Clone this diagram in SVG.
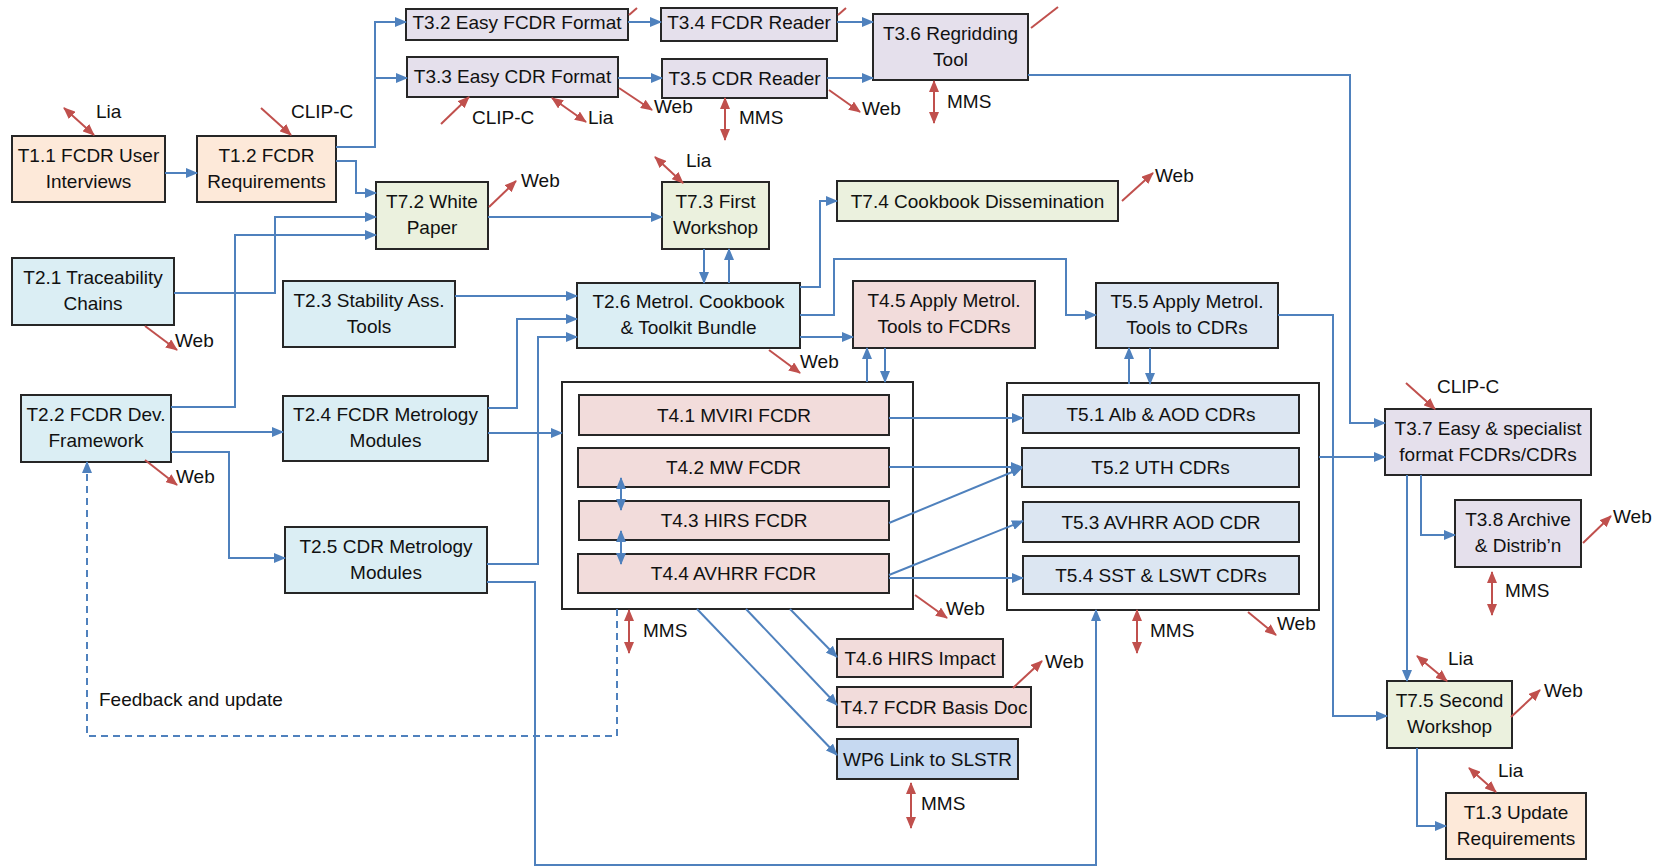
<svg xmlns="http://www.w3.org/2000/svg" width="1675" height="868" viewBox="0 0 1675 868">
<defs>
<marker id="ab" markerUnits="userSpaceOnUse" markerWidth="12" markerHeight="10" refX="11" refY="5" orient="auto-start-reverse"><path d="M0,0 L12,5 L0,10 z" fill="#4F81BD"/></marker>
<marker id="ar" markerUnits="userSpaceOnUse" markerWidth="12" markerHeight="10" refX="11" refY="5" orient="auto-start-reverse"><path d="M0,0 L12,5 L0,10 z" fill="#C0504D"/></marker>
<style>
.n rect{stroke:#262626;stroke-width:2}
.t1 rect{fill:#FDE9D9}.t3 rect{fill:#E5E0EC}.t7 rect{fill:#EBF1DE}.t2 rect{fill:#DBEEF4}
.t4 rect{fill:#F2DCDB}.t5 rect{fill:#DCE6F2}.wp rect{fill:#C6D9F1}.ct rect{fill:#FFFFFF}
text{font-family:"Liberation Sans",Arial,sans-serif;font-size:19px;fill:#111}
.n text{text-anchor:middle}
#conn path{fill:none;stroke:#4F81BD;stroke-width:2;marker-end:url(#ab)}
#conn path.d{marker-start:url(#ab)}
#conn path.fb{stroke-dasharray:7,5}
#ext path{fill:none;stroke:#C0504D;stroke-width:2;marker-end:url(#ar)}
#ext path.d{marker-start:url(#ar)}
#ext path.s{marker-end:none}
</style>
</defs>
<rect width="1675" height="868" fill="#FFFFFF"/>

<g id="containerT4" class="n ct"><rect x="562" y="382" width="351" height="227"/></g>
<g id="containerT5" class="n ct"><rect x="1007" y="383" width="312" height="227"/></g>

<g id="T1.1" class="n t1"><rect x="12" y="136" width="153" height="66"/><text x="88.5" y="162">T1.1 FCDR User</text><text x="88.5" y="188">Interviews</text></g>
<g id="T1.2" class="n t1"><rect x="197" y="136" width="139" height="66"/><text x="266.5" y="162">T1.2 FCDR</text><text x="266.5" y="188">Requirements</text></g>
<g id="T3.2" class="n t3"><rect x="406" y="9" width="222" height="31"/><text x="517" y="29">T3.2 Easy FCDR Format</text></g>
<g id="T3.4" class="n t3"><rect x="661" y="8" width="176" height="33"/><text x="749" y="29">T3.4 FCDR Reader</text></g>
<g id="T3.6" class="n t3"><rect x="873" y="14" width="155" height="66"/><text x="950.5" y="40">T3.6 Regridding</text><text x="950.5" y="66">Tool</text></g>
<g id="T3.3" class="n t3"><rect x="407" y="57" width="211" height="40"/><text x="512.5" y="83">T3.3 Easy CDR Format</text></g>
<g id="T3.5" class="n t3"><rect x="662" y="59" width="165" height="39"/><text x="744.5" y="85">T3.5 CDR Reader</text></g>
<g id="T7.2" class="n t7"><rect x="376" y="182" width="112" height="67"/><text x="432" y="208">T7.2 White</text><text x="432" y="234">Paper</text></g>
<g id="T7.3" class="n t7"><rect x="662" y="182" width="107" height="67"/><text x="715.5" y="208">T7.3 First</text><text x="715.5" y="234">Workshop</text></g>
<g id="T7.4" class="n t7"><rect x="837" y="181" width="281" height="40"/><text x="977.5" y="207.5">T7.4 Cookbook Dissemination</text></g>
<g id="T2.1" class="n t2"><rect x="12" y="258" width="162" height="67"/><text x="93" y="284">T2.1 Traceability</text><text x="93" y="310">Chains</text></g>
<g id="T2.3" class="n t2"><rect x="283" y="281" width="172" height="66"/><text x="369" y="307">T2.3 Stability Ass.</text><text x="369" y="333">Tools</text></g>
<g id="T2.6" class="n t2"><rect x="577" y="283" width="223" height="65"/><text x="688.5" y="308">T2.6 Metrol. Cookbook</text><text x="688.5" y="334">&amp; Toolkit Bundle</text></g>
<g id="T4.5" class="n t4"><rect x="853" y="281" width="182" height="67"/><text x="944" y="307">T4.5 Apply Metrol.</text><text x="944" y="333">Tools to FCDRs</text></g>
<g id="T5.5" class="n t5"><rect x="1096" y="283" width="182" height="65"/><text x="1187" y="308">T5.5 Apply Metrol.</text><text x="1187" y="334">Tools to CDRs</text></g>
<g id="T2.2" class="n t2"><rect x="21" y="395" width="150" height="67"/><text x="96" y="421">T2.2 FCDR Dev.</text><text x="96" y="447">Framework</text></g>
<g id="T2.4" class="n t2"><rect x="283" y="396" width="205" height="65"/><text x="385.5" y="421">T2.4 FCDR Metrology</text><text x="385.5" y="447">Modules</text></g>
<g id="T2.5" class="n t2"><rect x="285" y="527" width="202" height="66"/><text x="386" y="553">T2.5 CDR Metrology</text><text x="386" y="579">Modules</text></g>
<g id="T4.1" class="n t4"><rect x="579" y="395" width="310" height="40"/><text x="734" y="421.5">T4.1 MVIRI FCDR</text></g>
<g id="T4.2" class="n t4"><rect x="578" y="448" width="311" height="39"/><text x="733.5" y="474">T4.2 MW FCDR</text></g>
<g id="T4.3" class="n t4"><rect x="579" y="501" width="310" height="39"/><text x="734" y="527">T4.3 HIRS FCDR</text></g>
<g id="T4.4" class="n t4"><rect x="578" y="554" width="311" height="39"/><text x="733.5" y="580">T4.4 AVHRR FCDR</text></g>
<g id="T5.1" class="n t5"><rect x="1023" y="395" width="276" height="38"/><text x="1161" y="420.5">T5.1 Alb &amp; AOD CDRs</text></g>
<g id="T5.2" class="n t5"><rect x="1022" y="448" width="277" height="39"/><text x="1160.5" y="474">T5.2 UTH CDRs</text></g>
<g id="T5.3" class="n t5"><rect x="1023" y="502" width="276" height="40"/><text x="1161" y="528.5">T5.3 AVHRR AOD CDR</text></g>
<g id="T5.4" class="n t5"><rect x="1023" y="556" width="276" height="38"/><text x="1161" y="581.5">T5.4 SST &amp; LSWT CDRs</text></g>
<g id="T3.7" class="n t3"><rect x="1385" y="409" width="206" height="66"/><text x="1488" y="435">T3.7 Easy &amp; specialist</text><text x="1488" y="461">format FCDRs/CDRs</text></g>
<g id="T3.8" class="n t3"><rect x="1455" y="500" width="126" height="67"/><text x="1518" y="526">T3.8 Archive</text><text x="1518" y="552">&amp; Distrib’n</text></g>
<g id="T4.6" class="n t4"><rect x="837" y="639" width="166" height="38"/><text x="920" y="664.5">T4.6 HIRS Impact</text></g>
<g id="T4.7" class="n t4"><rect x="837" y="687" width="194" height="40"/><text x="934" y="713.5">T4.7 FCDR Basis Doc</text></g>
<g id="WP6" class="n wp"><rect x="837" y="739" width="181" height="40"/><text x="927.5" y="765.5">WP6 Link to SLSTR</text></g>
<g id="T7.5" class="n t7"><rect x="1387" y="681" width="125" height="67"/><text x="1449.5" y="707">T7.5 Second</text><text x="1449.5" y="733">Workshop</text></g>
<g id="T1.3" class="n t1"><rect x="1446" y="793" width="140" height="66"/><text x="1516" y="819">T1.3 Update</text><text x="1516" y="845">Requirements</text></g>

<g id="conn">
<path d="M165,173 H197"/>
<path d="M336,147 H375 V22 H406"/>
<path d="M375,78 H407"/>
<path d="M336,161 H356 V193 H376"/>
<path d="M174,293 H275 V217 H376"/>
<path d="M171,407 H235 V235 H376"/>
<path d="M488,217 H662"/>
<path d="M628,22 H661"/>
<path d="M618,78 H662"/>
<path d="M837,22 H873"/>
<path d="M827,78 H873"/>
<path d="M1028,75 H1350 V423 H1385"/>
<path d="M704,249 V283"/>
<path d="M729,283 V249"/>
<path d="M800,287 H820 V201 H837"/>
<path d="M800,315 H834 V259 H1066 V315 H1096"/>
<path d="M800,337 H853"/>
<path d="M455,296 H577"/>
<path d="M488,408 H517 V319 H577"/>
<path d="M487,564 H538 V337 H577"/>
<path d="M171,432 H283"/>
<path d="M171,452 H229 V558 H285"/>
<path d="M488,433 H562"/>
<path d="M487,582 H535 V865 H1096 V610"/>
<path d="M867,382 V348"/>
<path d="M885,348 V382"/>
<path d="M1129,384 V348"/>
<path d="M1150,348 V384"/>
<path d="M889,418 H1023"/>
<path d="M889,467 H1022"/>
<path d="M889,523 L1022,468"/>
<path d="M889,575 L1023,521"/>
<path d="M889,578 H1023"/>
<path class="d" d="M621,478 V510"/>
<path class="d" d="M621,531 V564"/>
<path d="M790,609 L837,657"/>
<path d="M746,609 L837,705"/>
<path d="M697,609 L837,755"/>
<path d="M1319,457 H1385"/>
<path d="M1278,315 H1333 V716 H1387"/>
<path d="M1407,475 V681"/>
<path d="M1421,475 V535 H1455"/>
<path d="M1417,748 V826 H1446"/>
<path class="fb" d="M617,609 V736 H87 V462"/>
</g>

<g id="ext">
<path class="d" d="M64,108 L94,135"/>
<path d="M261,108 L291,135"/>
<path d="M441,124 L469,97"/>
<path class="d" d="M552,98 L586,122"/>
<path d="M619,88 L652,110"/>
<path class="d" d="M725,98 V140"/>
<path d="M829,90 L860,112"/>
<path class="d" d="M934,81 V123"/>
<path class="s" d="M1031,28 L1058,7"/>
<path class="s" d="M629,15 L637,8"/>
<path class="s" d="M838,15 L846,8"/>
<path d="M489,207 L516,181"/>
<path class="d" d="M655,157 L683,183"/>
<path d="M1122,201 L1153,173"/>
<path d="M145,326 L177,350"/>
<path d="M145,460 L177,485"/>
<path d="M769,350 L800,373"/>
<path d="M915,595 L947,618"/>
<path class="d" d="M629,610 V653"/>
<path class="d" d="M1137,610 V653"/>
<path d="M1248,612 L1276,635"/>
<path d="M1406,383 L1435,409"/>
<path d="M1583,543 L1611,516"/>
<path class="d" d="M1492,572 V615"/>
<path d="M1013,688 L1042,661"/>
<path class="d" d="M911,783 V828"/>
<path class="d" d="M1417,656 L1447,681"/>
<path d="M1511,717 L1540,690"/>
<path class="d" d="M1469,768 L1496,792"/>
</g>

<g id="labels">
<text x="96" y="118">Lia</text>
<text x="291" y="118">CLIP-C</text>
<text x="472" y="124">CLIP-C</text>
<text x="588" y="124">Lia</text>
<text x="654" y="113">Web</text>
<text x="739" y="124">MMS</text>
<text x="862" y="115">Web</text>
<text x="947" y="108">MMS</text>
<text x="521" y="187">Web</text>
<text x="686" y="167">Lia</text>
<text x="1155" y="182">Web</text>
<text x="175" y="347">Web</text>
<text x="176" y="483">Web</text>
<text x="800" y="368">Web</text>
<text x="946" y="615">Web</text>
<text x="643" y="637">MMS</text>
<text x="1150" y="637">MMS</text>
<text x="1277" y="630">Web</text>
<text x="1437" y="393">CLIP-C</text>
<text x="1613" y="523">Web</text>
<text x="1505" y="597">MMS</text>
<text x="1045" y="668">Web</text>
<text x="921" y="810">MMS</text>
<text x="1448" y="665">Lia</text>
<text x="1544" y="697">Web</text>
<text x="1498" y="777">Lia</text>
<text x="99" y="706">Feedback and update</text>
</g>
</svg>
